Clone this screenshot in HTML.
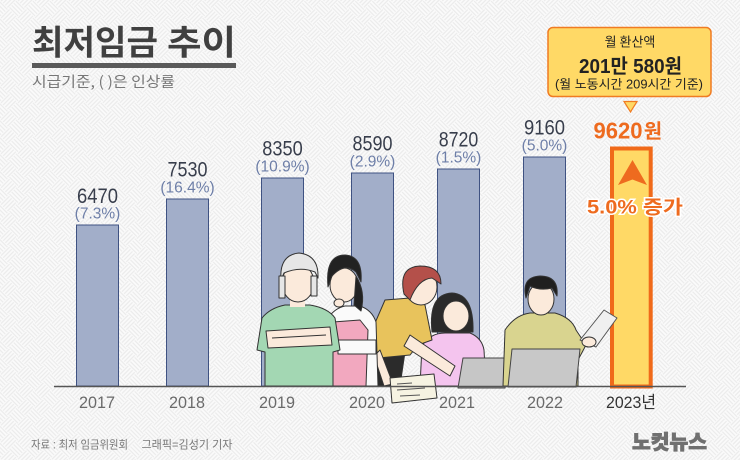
<!DOCTYPE html>
<html><head><meta charset="utf-8"><style>
html,body{margin:0;padding:0;background:#f4f4f4}
svg{display:block}
text{font-family:"Liberation Sans","Noto Sans CJK KR",sans-serif}
.k{font-family:"Noto Sans CJK KR","Liberation Sans",sans-serif}
</style></head><body>
<svg width="740" height="460" viewBox="0 0 740 460" xmlns="http://www.w3.org/2000/svg">
<defs>
<pattern id="bg" patternUnits="userSpaceOnUse" width="24" height="24" patternTransform="rotate(45)">
<rect width="24" height="24" fill="#fbfbfb"/>
<g stroke="#ebebeb" stroke-width="1.3">
<path d="M0,1.5H12M0,4.5H12M0,7.5H12M0,10.5H12"/>
<path d="M13.5,0V12M16.5,0V12M19.5,0V12M22.5,0V12"/>
<path d="M1.5,12V24M4.5,12V24M7.5,12V24M10.5,12V24"/>
<path d="M12,13.5H24M12,16.5H24M12,19.5H24M12,22.5H24"/>
</g>
</pattern>
</defs>
<rect width="740" height="460" fill="url(#bg)"/>

<!-- title -->
<text class="k" x="32" y="54.5" font-size="34" font-weight="bold" fill="#404040" textLength="126" lengthAdjust="spacingAndGlyphs">최저임금</text>
<text class="k" x="167" y="54.5" font-size="34" font-weight="bold" fill="#404040" textLength="69" lengthAdjust="spacingAndGlyphs">추이</text>
<rect x="32" y="63" width="204" height="5" fill="#5a5a5a"/>
<text class="k" x="32" y="87" font-size="14.5" fill="#777" textLength="143" lengthAdjust="spacingAndGlyphs">시급기준, ( )은 인상률</text>

<!-- bars -->
<g fill="#a2aec9" stroke="#3f5282" stroke-width="1">
<rect x="76.5" y="225" width="42" height="161"/>
<rect x="166.5" y="199" width="42" height="187"/>
<rect x="261.5" y="178" width="42" height="208"/>
<rect x="351.5" y="173" width="42" height="213"/>
<rect x="437.5" y="169" width="42" height="217"/>
<rect x="523.5" y="157" width="42" height="229"/>
</g>
<rect x="612" y="148.5" width="38.7" height="238" fill="#ffd966" stroke="#f06a1a" stroke-width="4"/>

<!-- value labels -->
<g font-size="21" fill="#383e4c" text-anchor="middle">
<text x="97.5" y="203" textLength="41" lengthAdjust="spacingAndGlyphs">6470</text>
<text x="187.5" y="176.5" textLength="40" lengthAdjust="spacingAndGlyphs">7530</text>
<text x="282.5" y="155.5" textLength="40.5" lengthAdjust="spacingAndGlyphs">8350</text>
<text x="372.5" y="150.5" textLength="40" lengthAdjust="spacingAndGlyphs">8590</text>
<text x="458.5" y="146.5" textLength="39.5" lengthAdjust="spacingAndGlyphs">8720</text>
<text x="544.5" y="134.5" textLength="41" lengthAdjust="spacingAndGlyphs">9160</text>
</g>
<g font-size="15.5" fill="#6e7fa8" text-anchor="middle">
<text x="97.5" y="218.5">(7.3%)</text>
<text x="187.5" y="192.5">(16.4%)</text>
<text x="282.5" y="171.5">(10.9%)</text>
<text x="372.5" y="166.5">(2.9%)</text>
<text x="458.5" y="162.5">(1.5%)</text>
<text x="544.5" y="150.5">(5.0%)</text>
</g>

<!-- people illustration -->
<g stroke="#333" stroke-width="1" stroke-linejoin="round">
<!-- person 4 girl -->
<path d="M432,332 Q428,294 452,293 Q474,294 473,332 Z" fill="#2a2a2a"/>
<ellipse cx="456" cy="316" rx="13" ry="15" fill="#fbeadb"/>
<path d="M422,346 Q430,333 445,333 L470,333 Q482,338 484,350 L486,386 L420,386 Z" fill="#f4c4ee"/>
<!-- person 3 yellow -->
<path d="M372,352 L405,352 L400,386 L370,386 Z" fill="#2b2b2b"/>
<path d="M385,300 L410,298 L425,305 L432,340 L418,345 L410,355 L378,358 L372,330 Z" fill="#e8c35c"/>
<ellipse cx="421" cy="287" rx="16" ry="18" fill="#fbeadb"/>
<path d="M404,294 Q398,267 420,266 Q441,266 441,284 L432,278 Q418,279 410,300 Z" fill="#b4504a"/>
<path d="M410,335 L455,366 L450,376 L404,346 Z" fill="#fbeadb"/>
<path d="M380,350 L393,384 L384,386 L374,356 Z" fill="#fbeadb"/>
<!-- person 2 apron -->
<path d="M328,318 Q335,308 345,306 L360,306 Q372,310 376,322 L378,386 L325,386 Z" fill="#fafafa"/>
<path d="M333,322 L360,320 L368,330 L366,386 L324,386 L328,335 Z" fill="#f2a8bf"/>
<rect x="338" y="340" width="38" height="14" fill="#fafafa"/>
<ellipse cx="344" cy="285" rx="14" ry="17" fill="#fbeadb"/>
<path d="M328,287 Q325,255 345,255 Q363,256 361,282 L356,272 Q345,262 332,276 Z" fill="#222"/>
<path d="M356,276 Q366,292 361,311 L354,305 Z" fill="#222"/>
<ellipse cx="339" cy="303" rx="5" ry="4" fill="#fbeadb"/>
<!-- person 1 bandana -->
<path d="M262,318 Q270,308 285,305 L310,305 Q328,308 335,318 L340,350 L333,352 L333,386 L265,386 L265,352 L257,350 Z" fill="#a3d7b3"/>
<rect x="290" y="296" width="15" height="11" fill="#fbeadb" stroke="none"/>
<ellipse cx="298" cy="283" rx="16" ry="19" fill="#fbeadb"/>
<path d="M281,280 Q279,255 299,253 Q319,255 318,278 L315,272 Q300,266 284,273 Z" fill="#e6e6e6"/>
<rect x="279" y="276" width="6" height="22" fill="#e6e6e6"/>
<rect x="311" y="276" width="6" height="20" fill="#e6e6e6"/>
<path d="M266,331 L330,327 L332,345 L268,348 Z" fill="#fbeadb"/>
<path d="M272,338 L326,335" fill="none"/>
<!-- laptop 1 -->
<path d="M463,358 L510,358 L505,388 L458,388 Z" fill="#c6c6c6" stroke="#444"/>
<!-- papers stack -->
<path d="M390,378 L434,374 L437,398 L392,403 Z" fill="#f6f3e2"/>
<path d="M397,384 L412,383 M397,390 L425,388 M400,396 L420,395" fill="none" stroke="#555"/>
<!-- person 5 -->
<path d="M505,330 Q515,315 530,313 L555,313 Q572,318 576,330 L586,345 L578,360 L578,386 L503,386 Z" fill="#d9d48f"/>
<ellipse cx="541" cy="299" rx="13" ry="16" fill="#fbeadb"/>
<path d="M526,298 Q521,277 540,276 Q559,276 557,296 L552,288 Q540,291 530,286 Z" fill="#1f1f1f"/>
<path d="M512,349 L580,349 L576,387 L508,387 Z" fill="#c8c8c8" stroke="#444"/>
<path d="M580,340 L604,310 L617,318 L596,347 Z" fill="#f0f0f0" stroke="#555"/>
<ellipse cx="589" cy="342" rx="7" ry="5" fill="#fbeadb"/>
</g>

<!-- baseline -->
<line x1="54" y1="386.5" x2="686" y2="386.5" stroke="#555" stroke-width="1.5"/>

<!-- year labels -->
<g font-size="17" fill="#6a6a6a" text-anchor="middle">
<text x="97" y="408" textLength="36" lengthAdjust="spacingAndGlyphs">2017</text>
<text x="187" y="408" textLength="36" lengthAdjust="spacingAndGlyphs">2018</text>
<text x="277" y="408" textLength="36" lengthAdjust="spacingAndGlyphs">2019</text>
<text x="367" y="408" textLength="36" lengthAdjust="spacingAndGlyphs">2020</text>
<text x="457" y="408" textLength="36" lengthAdjust="spacingAndGlyphs">2021</text>
<text x="545" y="408" textLength="36" lengthAdjust="spacingAndGlyphs">2022</text>
<text x="631" y="408" fill="#333" textLength="50" lengthAdjust="spacingAndGlyphs">2023년</text>
</g>

<!-- callout -->
<rect x="548" y="27.5" width="163" height="69" rx="5" fill="#ffd966" stroke="#f07b22" stroke-width="1.5"/>
<text class="k" x="630" y="46.5" font-size="13" fill="#222" text-anchor="middle">월 환산액</text>
<text x="630.5" y="73" font-size="20" font-weight="bold" fill="#222" text-anchor="middle" textLength="103" lengthAdjust="spacingAndGlyphs">201만 580원</text>
<text x="629" y="88.5" font-size="12.5" fill="#222" text-anchor="middle" textLength="148" lengthAdjust="spacingAndGlyphs">(월 노동시간 209시간 기준)</text>
<path d="M624,101.5 L637,101.5 L630.5,112 Z" fill="#ffd966" stroke="#f07b22" stroke-width="1.2"/>

<text x="618" y="138.5" font-size="23" font-weight="bold" fill="#ee6b1f" text-anchor="middle" textLength="49" lengthAdjust="spacingAndGlyphs">9620</text>
<text class="k" x="653" y="138" font-size="20" font-weight="bold" fill="#ee6b1f" text-anchor="middle">원</text>

<path d="M632.5,160 L647,185 L632.5,179.5 L618,185 Z" fill="#ee6b1f"/>
<text x="635" y="213.5" font-size="19" font-weight="bold" fill="#ee6b1f" stroke="#fff" stroke-width="3" paint-order="stroke" text-anchor="middle" textLength="96" lengthAdjust="spacingAndGlyphs">5.0% 증가</text>

<!-- footer -->
<text x="31" y="448.5" font-size="11.5" fill="#777" textLength="97" lengthAdjust="spacingAndGlyphs">자료 : 최저 임금위원회</text>
<text x="141.5" y="448.5" font-size="11.5" fill="#777" textLength="91" lengthAdjust="spacingAndGlyphs">그래픽=김성기 기자</text>
<text class="k" x="632" y="449" font-size="20" font-weight="900" fill="#707070" stroke="#707070" stroke-width="0.8" textLength="75" lengthAdjust="spacingAndGlyphs">노컷뉴스</text>
</svg>
</body></html>
